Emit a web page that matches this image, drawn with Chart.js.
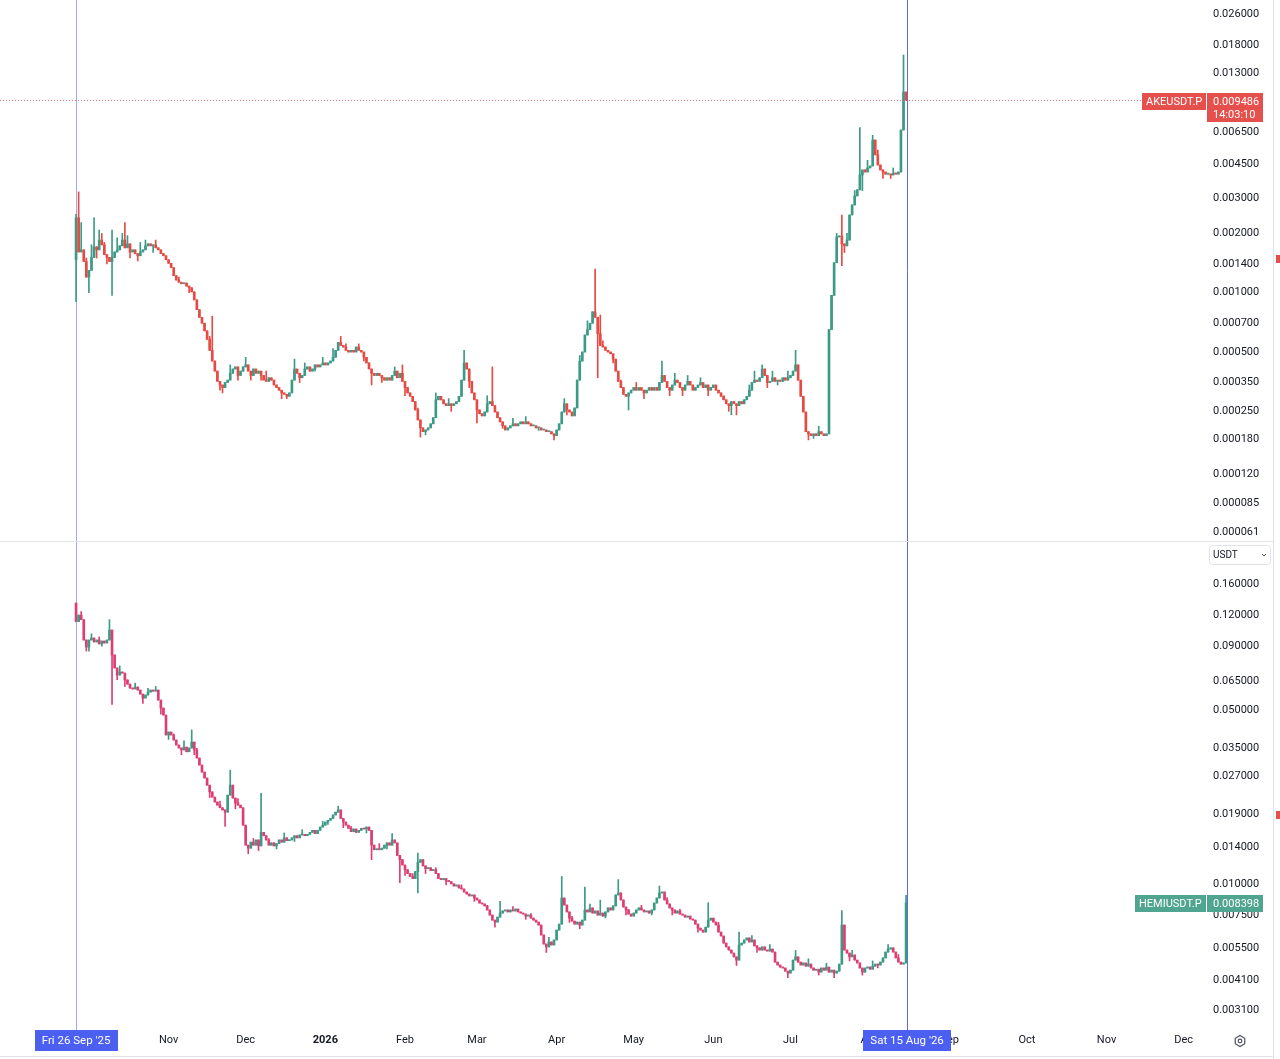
<!DOCTYPE html>
<html>
<head>
<meta charset="utf-8">
<script src="https://cdn.jsdelivr.net/npm/chart.js@4.4.1/dist/chart.umd.min.js"></script>
<style>
html, body { margin: 0; padding: 0; background: #fff; width: 1280px; height: 1059px; overflow: hidden; font-family: Roboto, sans-serif; }
#topWrap { position: absolute; left: 0; top: 0; width: 1273px; height: 541px; }
#sep { position: absolute; left: 0; top: 541px; width: 1273px; height: 1px; background: #e0e3eb; }
#botWrap { position: absolute; left: 0; top: 542px; width: 1273px; height: 514px; }
#base { position: absolute; left: 0; top: 1056px; width: 1273px; height: 1px; background: #e0e3eb; }
#strip { position: absolute; left: 1273px; top: 0; width: 7px; height: 1059px; border-left: 1px solid #e0e3eb; box-sizing: border-box; }
.mark { position: absolute; left: 1276px; width: 4px; height: 8px; background: #e5504c; }
</style>
</head>
<body>
<div id="topWrap"><canvas id="akeChart" width="1273" height="541"></canvas></div>
<div id="sep"></div>
<div id="botWrap"><canvas id="hemiChart" width="1273" height="514"></canvas></div>
<div id="base"></div>
<div id="strip"></div>
<div class="mark" style="top:255px"></div>
<div class="mark" style="top:811px"></div>
<script>
// daily candles, day 0 = Fri 26 Sep 2025, last day = Sat 15 Aug 2026
// each candle opens at the previous close; wicks listed only where they show
const akeOpen0 = 0.00147;
const akeClose = [
  0.00240,0.00161,0.00165,0.00144,0.00120,0.00130,0.00151,0.00171,0.00165,0.00185,
  0.00175,0.00156,0.00151,0.00144,0.00151,0.00161,0.00165,0.00173,0.00185,0.00169,
  0.00177,0.00161,0.00165,0.00158,0.00154,0.00161,0.00165,0.00173,0.00177,0.00173,
  0.00175,0.00169,0.00165,0.00158,0.00154,0.00147,0.00141,0.00134,0.00122,0.00116,
  0.00113,0.00111,0.00112,0.00108,0.00106,0.00101,0.00092,0.00082,0.00075,0.00070,
  0.00064,0.00058,0.00051,0.00045,0.00040,0.000355,0.00034,0.00033,0.00035,0.00036,
  0.00039,0.00041,0.00042,0.00038,0.00040,0.00042,0.00043,0.00040,0.00038,0.00041,
  0.00039,0.00040,0.00038,0.00036,0.000355,0.00037,0.00036,0.00034,0.00033,0.00032,
  0.00031,0.000305,0.000298,0.00031,0.00036,0.00041,0.00039,0.00037,0.00038,0.00041,
  0.00042,0.00040,0.00041,0.00043,0.00042,0.00043,0.00044,0.00043,0.00044,0.00045,
  0.00047,0.00051,0.00056,0.00054,0.00053,0.00051,0.00050,0.00051,0.00050,0.00053,
  0.00051,0.00050,0.00047,0.00044,0.00041,0.00039,0.00038,0.00039,0.00038,0.00037,
  0.00036,0.00037,0.00036,0.00038,0.00040,0.00037,0.00039,0.000355,0.00033,0.00031,
  0.000298,0.00028,0.000254,0.000226,0.000206,0.000197,0.000201,0.000206,0.000216,0.000232,
  0.000286,0.000298,0.000286,0.000273,0.000267,0.000273,0.000267,0.000273,0.00028,0.000298,
  0.00036,0.00044,0.00041,0.000355,0.00031,0.000286,0.000254,0.000243,0.000237,0.000248,
  0.000273,0.00028,0.000267,0.000248,0.000232,0.000221,0.000211,0.000201,0.000206,0.000211,
  0.000216,0.000211,0.000216,0.000221,0.000216,0.000221,0.000216,0.000211,0.000211,0.000206,
  0.000206,0.000201,0.000201,0.000197,0.000197,0.000192,0.000188,0.000201,0.000216,0.000248,
  0.000273,0.000254,0.000248,0.000237,0.00026,0.00036,0.00045,0.00050,0.00061,0.00065,
  0.00070,0.00080,0.00075,0.00062,0.00054,0.00053,0.00051,0.00050,0.00049,0.00046,
  0.00040,0.000355,0.00033,0.000305,0.000298,0.00031,0.00032,0.00033,0.00032,0.00033,
  0.00032,0.00031,0.00032,0.00033,0.00032,0.00033,0.00032,0.00035,0.00038,0.000355,
  0.00033,0.00032,0.00034,0.00036,0.00035,0.00033,0.00032,0.00034,0.000355,0.00034,
  0.00032,0.00033,0.00034,0.00035,0.00033,0.00034,0.00032,0.00033,0.00034,0.00032,
  0.00031,0.000298,0.000286,0.000273,0.000267,0.00028,0.000273,0.000267,0.00028,0.000273,
  0.000286,0.000298,0.00032,0.00035,0.00036,0.000355,0.00037,0.00041,0.00038,0.00035,
  0.000355,0.00037,0.000355,0.00036,0.000355,0.00037,0.00036,0.00037,0.00038,0.00040,
  0.00043,0.00036,0.000298,0.000248,0.000197,0.000192,0.000188,0.000192,0.000188,0.000197,
  0.000192,0.000188,0.000192,0.00065,0.00097,0.00142,0.00192,0.00194,0.00177,0.00173,
  0.00185,0.00248,0.00279,0.00310,0.00333,0.00396,0.00420,0.00410,0.00430,0.00440,
  0.00596,0.00501,0.00445,0.00420,0.00410,0.00400,0.00400,0.00396,0.00405,0.00400,
  0.00410,0.00670,0.01045,0.009486
];
const akeHighs = [[0,0.0025],[1,0.00325],[2,0.00227],[4,0.00150],[6,0.00175],[7,0.00240],[9,0.00208],
  [10,0.00200],[11,0.00180],[14,0.00208],[16,0.00190],[18,0.00200],[19,0.00227],[20,0.00195],
  [25,0.00180],[27,0.00185],[31,0.00185],[40,0.00120],[52,0.00060],[53,0.00076],[60,0.00043],
  [66,0.00047],[74,0.00040],[85,0.00046],[89,0.00044],[96,0.00047],[100,0.00052],[103,0.00060],
  [105,0.00055],[110,0.00055],[124,0.00042],[127,0.00043],[133,0.00026],[140,0.00031],[145,0.00029],
  [151,0.00051],[160,0.00030],[162,0.00042],[170,0.00023],[175,0.000235],[190,0.00029],[196,0.00048],
  [199,0.00072],[202,0.00132],[204,0.00077],[205,0.00057],[212,0.00036],[218,0.00035],[228,0.00045],
  [233,0.00039],[238,0.00038],[243,0.00037],[252,0.00030],[262,0.00034],[264,0.00040],[267,0.00043],
  [271,0.00040],[277,0.00040],[280,0.00051],[289,0.00021],[296,0.00200],[298,0.00248],[300,0.00200],
  [303,0.0033],[305,0.0069],[308,0.0047],[310,0.0063],[312,0.0053],[318,0.0043],[322,0.0161]];
const akeLows = [[0,0.00090],[5,0.00100],[8,0.00150],[12,0.00140],[14,0.00097],[21,0.00150],
  [24,0.00145],[30,0.00160],[44,0.00100],[56,0.00032],[57,0.00031],[63,0.00036],[68,0.00036],
  [72,0.00036],[80,0.00029],[82,0.00029],[87,0.00035],[93,0.00040],[112,0.00045],[115,0.00034],
  [119,0.00035],[128,0.00030],[134,0.000185],[136,0.00019],[146,0.00025],[153,0.00033],[156,0.000218],
  [166,0.000205],[180,0.00020],[186,0.000179],[191,0.00024],[203,0.00037],[209,0.00044],[215,0.000254],
  [221,0.00029],[231,0.00030],[236,0.00030],[246,0.00030],[254,0.00025],[255,0.00024],[257,0.00024],
  [269,0.00033],[273,0.00034],[285,0.000179],[287,0.000182],[298,0.00137],[299,0.00160],[302,0.0026],
  [306,0.0033],[314,0.0038],[317,0.0038]];

const hemiOpen0 = 0.134;
const hemiClose = [
  0.113,0.120,0.115,0.0953,0.0893,0.0953,0.0971,0.0936,0.0953,0.0919,
  0.0944,0.0927,0.0953,0.1045,0.0830,0.0736,0.0689,0.0709,0.0702,0.0658,
  0.0634,0.0611,0.0606,0.0617,0.0600,0.0578,0.0557,0.0573,0.0589,0.0600,
  0.0594,0.0600,0.0547,0.0508,0.0476,0.0396,0.0407,0.0396,0.0378,0.0361,
  0.0351,0.0345,0.0354,0.0339,0.0351,0.0371,0.0345,0.0320,0.0300,0.0281,
  0.0266,0.0249,0.0234,0.0223,0.0213,0.0207,0.0202,0.0198,0.0194,0.0227,
  0.0249,0.0221,0.0211,0.0207,0.0202,0.0172,0.0143,0.0139,0.0147,0.0143,
  0.0150,0.0142,0.0161,0.0156,0.0150,0.0143,0.0146,0.0142,0.0145,0.0150,
  0.0147,0.0153,0.0149,0.0150,0.0153,0.0156,0.0153,0.0157,0.0158,0.0156,
  0.0158,0.0161,0.0164,0.0159,0.0164,0.0169,0.0172,0.0177,0.0180,0.0183,
  0.0189,0.0194,0.0198,0.0183,0.0177,0.0172,0.0167,0.0162,0.0166,0.0161,
  0.0164,0.0167,0.0166,0.0169,0.0164,0.0143,0.0137,0.0138,0.0137,0.0139,
  0.0143,0.0146,0.0143,0.0150,0.0146,0.0130,0.0125,0.0119,0.0114,0.0110,
  0.0107,0.0105,0.0112,0.0122,0.0125,0.0118,0.0115,0.0116,0.0113,0.0114,
  0.0110,0.0105,0.0104,0.0105,0.0103,0.0102,0.0100,0.00980,0.00989,0.00962,
  0.00953,0.00927,0.00910,0.00894,0.00902,0.00877,0.00861,0.00837,0.00830,0.00815,
  0.00785,0.00749,0.00715,0.00702,0.00735,0.00763,0.00778,0.00785,0.00771,0.00785,
  0.00778,0.00792,0.00771,0.00763,0.00756,0.00742,0.00749,0.00728,0.00715,0.00702,
  0.00683,0.00623,0.00573,0.00558,0.00584,0.00568,0.00595,0.00652,0.00689,0.00877,
  0.00822,0.00771,0.00728,0.00708,0.00689,0.00702,0.00683,0.00715,0.00785,0.00771,
  0.00800,0.00763,0.00778,0.00749,0.00763,0.00742,0.00771,0.00800,0.00785,0.00815,
  0.00902,0.00919,0.00861,0.00807,0.00785,0.00756,0.00742,0.00763,0.00785,0.00800,
  0.00785,0.00771,0.00778,0.00763,0.00785,0.00837,0.00877,0.00919,0.00927,0.00861,
  0.00830,0.00800,0.00785,0.00763,0.00778,0.00756,0.00749,0.00735,0.00742,0.00722,
  0.00715,0.00689,0.00664,0.00652,0.00640,0.00670,0.00715,0.00728,0.00702,0.00683,
  0.00640,0.00617,0.00578,0.00558,0.00542,0.00527,0.00509,0.00494,0.00568,0.00578,
  0.00595,0.00606,0.00584,0.00595,0.00563,0.00553,0.00542,0.00558,0.00542,0.00537,
  0.00547,0.00532,0.00485,0.00472,0.00463,0.00459,0.00446,0.00438,0.00450,0.00494,
  0.00509,0.00485,0.00472,0.00481,0.00467,0.00476,0.00459,0.00450,0.00454,0.00442,
  0.00459,0.00450,0.00463,0.00442,0.00450,0.00438,0.00446,0.00476,0.00683,0.00542,
  0.00527,0.00509,0.00518,0.00494,0.00481,0.00459,0.00442,0.00459,0.00463,0.00454,
  0.00467,0.00476,0.00472,0.00485,0.00504,0.00532,0.00547,0.00553,0.00532,0.00504,
  0.00485,0.00476,0.00481,0.008398
];
const hemiHighs = [[2,0.124],[6,0.101],[9,0.098],[13,0.115],[17,0.075],[20,0.066],[23,0.064],
  [28,0.061],[31,0.062],[38,0.040],[42,0.0375],[45,0.0415],[47,0.035],[56,0.0215],[60,0.0286],
  [63,0.0220],[69,0.0152],[72,0.0231],[75,0.0152],[81,0.0160],[88,0.0165],[96,0.0178],[102,0.0205],
  [107,0.0170],[118,0.0145],[123,0.0159],[131,0.0110],[133,0.0133],[140,0.0116],[150,0.0099],
  [160,0.0082],[165,0.0085],[170,0.0081],[177,0.0076],[184,0.0061],[189,0.0107],[193,0.0074],
  [198,0.0097],[200,0.0083],[204,0.0086],[211,0.0104],[215,0.0079],[220,0.0082],[227,0.0098],
  [230,0.0088],[235,0.0079],[246,0.0084],[250,0.0070],[258,0.0064],[263,0.0062],[270,0.0057],
  [280,0.0054],[285,0.0050],[292,0.0048],[298,0.0078],[302,0.0054],[310,0.0049],[316,0.0057],
  [320,0.0052],[323,0.0090]];
const hemiLows = [[4,0.086],[5,0.086],[10,0.090],[14,0.0525],[16,0.066],[19,0.062],[26,0.053],
  [33,0.048],[36,0.038],[41,0.033],[46,0.033],[52,0.0222],[58,0.0170],[62,0.0200],[67,0.0132],
  [71,0.0136],[78,0.0138],[85,0.0148],[98,0.0173],[104,0.0168],[113,0.0160],[115,0.0125],
  [121,0.0138],[126,0.0101],[128,0.0108],[133,0.0092],[136,0.0110],[144,0.0099],[155,0.0085],
  [163,0.0067],[175,0.0072],[183,0.0053],[192,0.0070],[196,0.0066],[206,0.0073],[214,0.0075],
  [224,0.0075],[232,0.0075],[242,0.0064],[257,0.0047],[265,0.0053],[277,0.0042],[289,0.0043],
  [295,0.0042],[301,0.0049],[306,0.0043],[312,0.0046]];

const akeTicks = [0.026, 0.018, 0.013, 0.0065, 0.0045, 0.003, 0.002, 0.0014, 0.001, 0.0007,
  0.0005, 0.00035, 0.00025, 0.00018, 0.00012, 0.000085, 0.000061];
const hemiTicks = [0.16, 0.12, 0.09, 0.065, 0.05, 0.035, 0.027, 0.019, 0.014, 0.01,
  0.0075, 0.0055, 0.0041, 0.0031];

// month starts as day offsets from 26 Sep 2025
const monthDays = [36, 66, 97, 128, 156, 187, 217, 248, 278, 309, 340, 370, 401, 431];
const monthLabels = ['Nov', 'Dec', '2026', 'Feb', 'Mar', 'Apr', 'May', 'Jun', 'Jul', 'Aug', 'Sep', 'Oct', 'Nov', 'Dec'];
const firstLabel = "Fri 26 Sep '25";
const lastLabel = "Sat 15 Aug '26";
const lastDay = akeClose.length - 1;

const FONT = 'Roboto, "Open Sans", sans-serif';
const TEXT = '#131722';

function buildCandles(open0, closes, highs, lows) {
  const hi = Object.fromEntries(highs);
  const lo = Object.fromEntries(lows);
  return closes.map((c, d) => {
    const o = d === 0 ? open0 : closes[d - 1];
    return {
      d, o, c,
      h: hi[d] !== undefined ? hi[d] : Math.max(o, c),
      l: lo[d] !== undefined ? lo[d] : Math.min(o, c)
    };
  });
}

function candleSets(candles, up, down) {
  const colors = candles.map(k => k.c >= k.o ? up : down);
  return [{
    data: candles.map(k => ({ x: k.d, y: [k.l, k.h] })),
    backgroundColor: colors,
    barThickness: 1,
    grouped: false,
    borderWidth: 0
  }, {
    data: candles.map(k => ({ x: k.d, y: [k.o, k.c] })),
    backgroundColor: colors,
    barThickness: 2,
    minBarLength: 1,
    grouped: false,
    borderWidth: 0
  }];
}

function yScale(ticks, min, max) {
  return {
    type: 'logarithmic',
    position: 'right',
    min: min,
    max: max,
    beginAtZero: false,
    afterBuildTicks: s => { s.ticks = ticks.map(v => ({ value: v })); },
    afterFit: s => { s.width = 66; s.paddingTop = 0; s.paddingBottom = 0; },
    ticks: {
      autoSkip: false,
      padding: 6,
      color: TEXT,
      font: { family: FONT, size: 11 },
      callback: v => Number(v).toFixed(6)
    },
    grid: { display: false, drawTicks: false },
    border: { display: false }
  };
}

function vLine(ctx, x, y0, y1, color) {
  ctx.strokeStyle = color;
  ctx.lineWidth = 1;
  ctx.beginPath();
  ctx.moveTo(Math.round(x) + 0.5, y0);
  ctx.lineTo(Math.round(x) + 0.5, y1);
  ctx.stroke();
}

function priceTag(ctx, area, y, name, value, sub, color) {
  ctx.font = '11px ' + FONT;
  const nw = Math.round(ctx.measureText(name).width + 8);
  const h = sub ? 29 : 17;
  const top = Math.round(y) - 8;
  ctx.fillStyle = color;
  ctx.fillRect(area.right - nw - 1, top, nw, 17);
  ctx.fillRect(area.right, top, 56, h);
  ctx.fillStyle = '#fff';
  ctx.textBaseline = 'middle';
  ctx.textAlign = 'left';
  ctx.fillText(name, area.right - nw + 3, top + 9);
  ctx.fillText(value, area.right + 6, top + 9);
  if (sub) ctx.fillText(sub, area.right + 6, top + 22);
}

const akeCandles = buildCandles(akeOpen0, akeClose, akeHighs, akeLows);
const hemiCandles = buildCandles(hemiOpen0, hemiClose, hemiHighs, hemiLows);

const xMin = -29.6, xMax = 440.1;

// the two day markers sit under the candles
const dayLines = {
  id: 'dayLines',
  beforeDatasetsDraw(chart) {
    const { ctx, chartArea, scales: { x } } = chart;
    const bottom = chart.canvas.id === 'akeChart' ? chart.height : chartArea.bottom + 2;
    ctx.save();
    vLine(ctx, x.getPixelForValue(0), 0, bottom, 'rgba(120,134,232,0.7)');
    vLine(ctx, x.getPixelForValue(lastDay) + 1, 0, bottom, '#5a6de0');
    ctx.restore();
  }
};

const akeOverlay = {
  id: 'akeOverlay',
  afterDraw(chart) {
    const { ctx, chartArea, scales: { y } } = chart;
    const last = akeClose[lastDay];
    const py = Math.round(y.getPixelForValue(last)) + 0.5;
    ctx.save();
    ctx.setLineDash([1, 2]);
    ctx.strokeStyle = 'rgba(229,80,76,0.8)';
    ctx.beginPath();
    ctx.moveTo(0, py);
    ctx.lineTo(chartArea.right - 62, py);
    ctx.stroke();
    ctx.setLineDash([]);
    priceTag(ctx, chartArea, py, 'AKEUSDT.P', last.toFixed(6), '14:03:10', '#e5504c');
    ctx.restore();
  }
};

const hemiOverlay = {
  id: 'hemiOverlay',
  afterDraw(chart) {
    const { ctx, chartArea, scales: { x, y } } = chart;
    const last = hemiClose[lastDay];
    ctx.save();
    priceTag(ctx, chartArea, y.getPixelForValue(last), 'HEMIUSDT.P', last.toFixed(6), null, '#4fa58f');

    // time labels of the two marked days
    ctx.font = '11.5px ' + FONT;
    ctx.textAlign = 'center';
    ctx.textBaseline = 'middle';
    [[0, firstLabel, 0], [lastDay, lastLabel, 1]].forEach(([d, t, shift]) => {
      const cx = x.getPixelForValue(d) + shift;
      const w = Math.round(ctx.measureText(t).width + 14);
      ctx.fillStyle = '#4b5ff0';
      ctx.fillRect(Math.round(cx - w / 2), chartArea.bottom + 2, w, 21);
      ctx.fillStyle = '#fff';
      ctx.fillText(t, cx, chartArea.bottom + 13);
    });

    // currency selector at top of the price scale
    ctx.strokeStyle = '#e0e3eb';
    ctx.fillStyle = '#fff';
    ctx.beginPath();
    ctx.roundRect(chartArea.right + 2.5, 3.5, 61, 19, 3);
    ctx.fill();
    ctx.stroke();
    ctx.fillStyle = TEXT;
    ctx.textAlign = 'left';
    ctx.font = '10px ' + FONT;
    ctx.fillText('USDT', chartArea.right + 6, 13);
    ctx.strokeStyle = '#50535e';
    ctx.beginPath();
    ctx.moveTo(chartArea.right + 55, 12);
    ctx.lineTo(chartArea.right + 57, 14);
    ctx.lineTo(chartArea.right + 59, 12);
    ctx.stroke();

    // settings icon in the corner
    ctx.strokeStyle = '#50535e';
    ctx.lineWidth = 1.2;
    ctx.beginPath();
    for (let i = 0; i < 6; i++) {
      const a = Math.PI / 6 + i * Math.PI / 3;
      const px = 1240 + 5.5 * Math.cos(a), pyy = chartArea.bottom + 13 + 5.5 * Math.sin(a);
      if (i === 0) ctx.moveTo(px, pyy); else ctx.lineTo(px, pyy);
    }
    ctx.closePath();
    ctx.stroke();
    ctx.beginPath();
    ctx.arc(1240, chartArea.bottom + 13, 1.8, 0, Math.PI * 2);
    ctx.stroke();
    ctx.restore();
  }
};

const common = {
  responsive: false,
  animation: false,
  events: [],
  layout: { padding: 0 },
  plugins: { legend: { display: false }, tooltip: { enabled: false } }
};

new Chart(document.getElementById('akeChart').getContext('2d'), {
  type: 'bar',
  data: { datasets: candleSets(akeCandles, '#3c9a86', '#e64a44') },
  options: Object.assign({}, common, {
    scales: {
      x: { type: 'linear', min: xMin, max: xMax, display: false, offset: false, grid: { offset: false } },
      y: yScale(akeTicks, 0.0000549, 0.03062)
    }
  }),
  plugins: [dayLines, akeOverlay]
});

new Chart(document.getElementById('hemiChart').getContext('2d'), {
  type: 'bar',
  data: { datasets: candleSets(hemiCandles, '#3c9a86', '#dd3f72') },
  options: Object.assign({}, common, {
    scales: {
      x: {
        type: 'linear',
        min: xMin,
        max: xMax,
        offset: false,
        position: 'bottom',
        afterBuildTicks: s => { s.ticks = monthDays.map(v => ({ value: v })); },
        afterFit: s => { s.height = 28; s.paddingLeft = 0; s.paddingRight = 0; },
        ticks: {
          autoSkip: false,
          maxRotation: 0,
          padding: 6,
          color: TEXT,
          font: c => ({ family: FONT, size: 11, weight: c.tick && c.tick.value === 97 ? 'bold' : 'normal' }),
          callback: (v, i) => monthLabels[i]
        },
        grid: { display: false, drawTicks: false, offset: false },
        border: { display: false }
      },
      y: yScale(hemiTicks, 0.002636, 0.2359)
    }
  }),
  plugins: [dayLines, hemiOverlay]
});
</script>
</body>
</html>
